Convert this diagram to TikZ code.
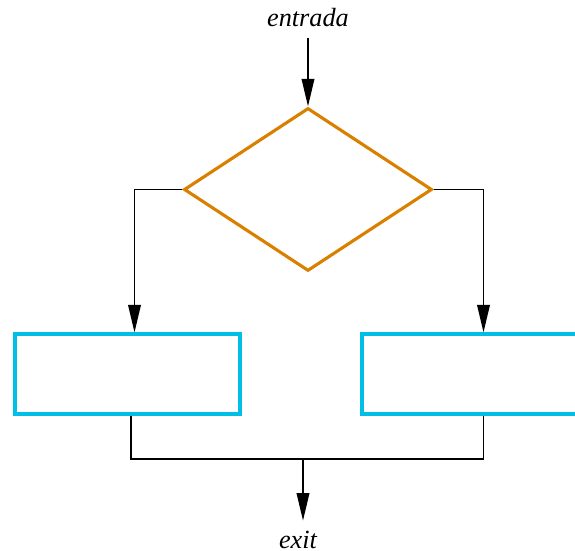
\documentclass[tikz,border=0pt]{standalone}
\usepackage{fontspec}
\setmainfont{Liberation Serif}
\usetikzlibrary{arrows.meta,shapes.geometric,positioning,calc}
\definecolor{fcDecide}{HTML}{D98000}
\definecolor{fcStep}{HTML}{00BFE6}
\tikzset{
  decision/.style={
    draw=fcDecide, diamond, line width=1.25pt, inner sep=0pt,
    minimum width=99.2pt, minimum height=65.2pt
  },
  stepbox/.style={
    draw=fcStep, rectangle, line width=1.25pt, inner sep=0pt,
    minimum width=90pt, minimum height=32pt
  },
  flowline/.style={line width=0.75pt, black},
  flowarrow/.style={flowline, -{Triangle[length=11pt, width=5pt]}},
  tag/.style={font=\fontsize{10.5}{12}\selectfont\itshape, inner sep=0pt}
}

\begin{document}
\begin{tikzpicture}[x=0.4pt, y=-0.4pt]
  \useasboundingbox (0,0) rectangle (575,551);
  % nodes
  \node[tag] (in) at (308,18) {entrada};
  \node[decision] (cond) at (308,189.5) {};
  \node[stepbox] (yes) at (127.5,374) {};
  \node[stepbox] (no) at (474.5,374) {};
  \node[tag] (out) at (298,540) {exit};
  \coordinate (join) at (303,459);
  % connectors
  \draw[flowarrow] ([yshift=-4pt]in.south) -- (cond.north);
  \draw[flowarrow] (cond.west) -| ([xshift=2.8pt]yes.north);
  \draw[flowarrow] (cond.east) -| ([xshift=3.6pt]no.north);
  \draw[flowline] ([xshift=1.4pt]yes.south) |- (join) -| ([xshift=3.6pt]no.south);
  \draw[flowarrow] (join) -- ($(join |- out.north)+(0,-10)$);
\end{tikzpicture}
\end{document}
